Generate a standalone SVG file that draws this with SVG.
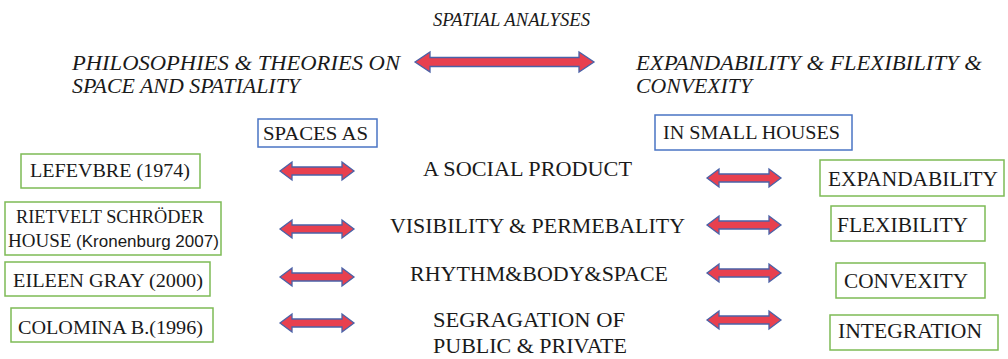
<svg xmlns="http://www.w3.org/2000/svg" width="1008" height="359" viewBox="0 0 1008 359" font-family="Liberation Serif, Tinos, Times New Roman, Times, Nimbus Roman, FreeSerif, DejaVu Serif, Noto Serif, serif">
  <style>
    text { fill: #1a1a1a; }
    .ital { font-style: italic; font-size: 21px; }
    .mid { font-size: 21px; }
    .lbl { font-size: 19px; }
    .lbl-r { font-size: 21px; }
    .green { fill: #ffffff; stroke: #7dbb55; stroke-width: 1.5; }
    .blue { fill: #ffffff; stroke: #4a74c4; stroke-width: 1.5; }
    .arrow { fill: #e8404f; stroke: #4a62a8; stroke-width: 1.3; stroke-linejoin: miter; }
  </style>
  <defs>
    <!-- double-headed block arrow, 74 wide, origin at the left tip -->
    <path id="dbl" d="M0,0 L12,-9 L12,-4 L62,-4 L62,-9 L74,0 L62,9 L62,4 L12,4 L12,9 Z"/>
  </defs>
  <rect width="1008" height="359" fill="#ffffff"/>

  <!-- headings -->
  <g id="title">
    <text class="ital" x="433" y="26" style="font-size:19px" textLength="157" lengthAdjust="spacingAndGlyphs">SPATIAL  ANALYSES</text>
  </g>
  <g id="theories">
    <text class="ital" x="72" y="70" textLength="328" lengthAdjust="spacingAndGlyphs">PHILOSOPHIES &amp; THEORIES ON</text>
    <text class="ital" x="72" y="93" textLength="228" lengthAdjust="spacingAndGlyphs">SPACE AND SPATIALITY</text>
  </g>
  <g id="criteria">
    <text class="ital" x="636" y="70" textLength="346" lengthAdjust="spacingAndGlyphs">EXPANDABILITY  &amp; FLEXIBILITY &amp;</text>
    <text class="ital" x="636" y="93" textLength="116" lengthAdjust="spacingAndGlyphs">CONVEXITY</text>
  </g>

  <!-- connectors -->
  <g id="connectors">
    <path class="arrow" d="M415,62 L430,52 L430,57.5 L579,57.5 L579,52 L594,62 L579,72 L579,66.5 L430,66.5 L430,72 Z"/>
    <use href="#dbl" class="arrow" x="280" y="171"/>
    <use href="#dbl" class="arrow" x="280" y="229"/>
    <use href="#dbl" class="arrow" x="280" y="277"/>
    <use href="#dbl" class="arrow" x="280" y="323"/>
    <use href="#dbl" class="arrow" x="707" y="178"/>
    <use href="#dbl" class="arrow" x="707" y="225"/>
    <use href="#dbl" class="arrow" x="707" y="273"/>
    <use href="#dbl" class="arrow" x="707" y="320"/>
  </g>

  <!-- column headers -->
  <g id="spaces-as">
    <rect class="blue" x="258" y="119" width="119" height="28"/>
    <text class="lbl" x="263" y="140" textLength="105" lengthAdjust="spacingAndGlyphs">SPACES  AS</text>
  </g>
  <g id="small-houses">
    <rect class="blue" x="655" y="115" width="197" height="35"/>
    <text class="lbl" x="663" y="139" textLength="177" lengthAdjust="spacingAndGlyphs">IN SMALL  HOUSES</text>
  </g>

  <!-- sources -->
  <g id="lefevbre">
    <rect class="green" x="21" y="154" width="179" height="34"/>
    <text class="lbl" x="30" y="177" textLength="160" lengthAdjust="spacingAndGlyphs">LEFEVBRE  (1974)</text>
  </g>
  <g id="rietvelt">
    <rect class="green" x="5" y="202" width="216" height="53"/>
    <text class="lbl" x="16" y="223" textLength="188" lengthAdjust="spacingAndGlyphs">RIETVELT SCHRÖDER</text>
    <text class="lbl" x="8" y="247">HOUSE <tspan font-family="Liberation Sans, Arimo, Arial, DejaVu Sans, sans-serif" style="font-size:17px">(Kronenburg 2007)</tspan></text>
  </g>
  <g id="gray">
    <rect class="green" x="5" y="262" width="205" height="34"/>
    <text class="lbl" x="13" y="287" textLength="190" lengthAdjust="spacingAndGlyphs">EILEEN  GRAY (2000)</text>
  </g>
  <g id="colomina">
    <rect class="green" x="11" y="308" width="202" height="34"/>
    <text class="lbl" x="18" y="334" textLength="185" lengthAdjust="spacingAndGlyphs">COLOMINA  B.(1996)</text>
  </g>

  <!-- readings of space -->
  <g id="social">
    <text class="mid" x="423" y="176" textLength="209" lengthAdjust="spacingAndGlyphs">A SOCIAL  PRODUCT</text>
  </g>
  <g id="visibility">
    <text class="mid" x="390" y="233" textLength="295" lengthAdjust="spacingAndGlyphs">VISIBILITY  &amp; PERMEBALITY</text>
  </g>
  <g id="rhythm">
    <text class="mid" x="410" y="281" textLength="258" lengthAdjust="spacingAndGlyphs">RHYTHM&amp;BODY&amp;SPACE</text>
  </g>
  <g id="segregation">
    <text class="mid" x="433" y="327" textLength="192" lengthAdjust="spacingAndGlyphs">SEGRAGATION  OF</text>
    <text class="mid" x="433" y="353" textLength="194" lengthAdjust="spacingAndGlyphs">PUBLIC  &amp; PRIVATE</text>
  </g>

  <!-- qualities -->
  <g id="expandability">
    <rect class="green" x="820" y="160" width="184" height="36"/>
    <text class="lbl-r" x="828" y="186" textLength="170" lengthAdjust="spacingAndGlyphs">EXPANDABILITY</text>
  </g>
  <g id="flexibility">
    <rect class="green" x="831" y="206" width="154" height="35"/>
    <text class="lbl-r" x="837" y="232" textLength="131" lengthAdjust="spacingAndGlyphs">FLEXIBILITY</text>
  </g>
  <g id="convexity">
    <rect class="green" x="836" y="263" width="149" height="35"/>
    <text class="lbl-r" x="844" y="288" textLength="124" lengthAdjust="spacingAndGlyphs">CONVEXITY</text>
  </g>
  <g id="integration">
    <rect class="green" x="830" y="315" width="168" height="35"/>
    <text class="lbl-r" x="838" y="338" textLength="144" lengthAdjust="spacingAndGlyphs">INTEGRATION</text>
  </g>
</svg>
